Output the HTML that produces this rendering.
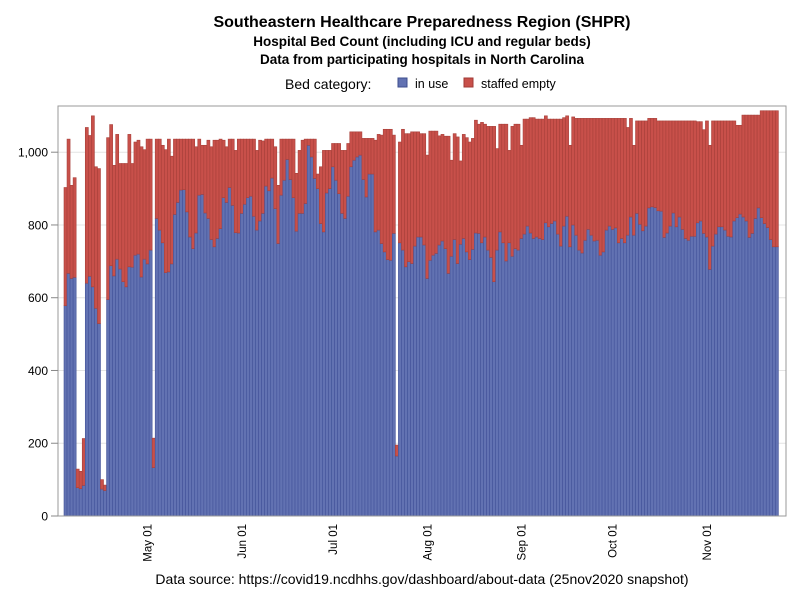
<!DOCTYPE html>
<html><head><meta charset="utf-8"><style>
body{margin:0;background:#fff;font-family:"Liberation Sans",Arial,sans-serif}
svg text{font-family:"Liberation Sans",Arial,sans-serif}
</style></head><body>
<svg id="chart" width="800" height="600" viewBox="0 0 800 600" xmlns="http://www.w3.org/2000/svg">
<rect x="0" y="0" width="800" height="600" fill="#fff"/>
<text x="422" y="27" text-anchor="middle" font-size="16" font-weight="bold">Southeastern Healthcare Preparedness Region (SHPR)</text>
<text x="422" y="46" text-anchor="middle" font-size="13.5" font-weight="bold">Hospital Bed Count (including ICU and regular beds)</text>
<text x="422" y="64" text-anchor="middle" font-size="13.5" font-weight="bold">Data from participating hospitals in North Carolina</text>
<g>
<text x="285" y="89" font-size="14">Bed category:</text>
<rect x="398" y="78" width="9" height="9" fill="#6272B2" stroke="#3D4E8E"/>
<text x="415" y="88" font-size="12.5">in use</text>
<rect x="464" y="78" width="9" height="9" fill="#C8504A" stroke="#A03A35"/>
<text x="481" y="88" font-size="12.5">staffed empty</text>
</g>
<g id="grid"></g>
<g id="bars"></g>
<rect x="58" y="106" width="728" height="410" fill="none" stroke="#999" stroke-width="1"/>
<g id="yaxis"></g>
<g id="xaxis"></g>
<text x="422" y="584" text-anchor="middle" font-size="14">Data source: https://covid19.ncdhhs.gov/dashboard/about-data (25nov2020 snapshot)</text>
</svg>
<script>
const inUse=[578,667,653,656,78,75,84,640,659,630,571,529,74,70,595,688,660,706,679,644,630,685,684,717,720,657,706,693,731,133,818,786,751,669,671,693,829,862,896,
897,836,767,735,778,882,884,833,818,760,740,763,790,875,862,903,854,779,778,832,857,875,879,824,786,811,832,907,894,929,845,749,882,923,980,925,875,783,832,
832,859,1019,987,928,900,804,781,888,900,960,923,886,832,818,879,960,978,987,992,925,877,940,940,781,786,749,726,705,703,777,165,751,731,685,699,694,742,767,767,745,
653,703,717,722,745,756,735,667,714,760,694,747,763,726,705,733,778,777,751,767,731,711,644,731,781,751,701,751,714,735,731,763,775,797,778,763,767,763,760,
806,795,804,811,775,742,797,824,740,800,772,731,723,758,788,772,756,758,717,726,786,797,788,792,751,763,751,772,822,772,832,802,784,797,847,850,848,839,
838,766,778,797,833,795,822,788,763,758,769,769,806,811,777,767,678,742,775,795,795,786,769,767,811,820,830,822,811,766,777,818,847,820,804,793,760,740,740];
const totalBeds=[903,1036,909,930,129,123,213,1068,1046,1100,960,955,100,85,1040,1076,964,1049,969,969,969,1049,969,1028,1033,1015,1007,1036,1036,214,1036,1036,1019,1007,1036,989,1036,1036,1036,
1036,1036,1036,1036,1015,1036,1019,1019,1033,1015,1033,1033,1036,1033,1015,1036,1036,1005,1036,1036,1036,1036,1036,1036,1005,1033,1031,1036,1036,1036,1015,909,1036,1036,1036,1036,1036,942,1005,
1033,1036,1036,1036,1036,940,960,1005,1005,1005,1024,1024,1024,1005,1005,1024,1056,1056,1056,1056,1038,1038,1038,1038,1033,1049,1047,1063,1063,1063,1047,195,1028,1063,1051,1051,1056,1056,1056,1051,1051,
992,1058,1058,1058,1045,1049,1044,1044,978,1051,1042,976,1049,1040,1028,1038,1088,1077,1082,1077,1071,1071,1071,1010,1077,1077,1077,1005,1071,1077,1077,1019,1091,1091,1095,1095,1091,1091,1091,
1100,1091,1091,1091,1091,1091,1095,1100,1019,1097,1093,1093,1093,1093,1093,1093,1093,1093,1093,1093,1093,1093,1093,1093,1093,1093,1093,1068,1093,1019,1086,1086,1086,1086,1093,1093,1093,1086,
1086,1086,1086,1086,1086,1086,1086,1086,1086,1086,1086,1086,1084,1084,1062,1086,1019,1086,1086,1086,1086,1086,1086,1086,1086,1074,1074,1102,1102,1102,1102,1102,1102,1114,1114,1114,1114,1114,1114];
const yTicks=[0,200,400,600,800,1000];
const yTickLabels=["0","200","400","600","800","1,000"];
const xTickDays=[27,58,88,119,150,180,211];
const xTickLabels=["May 01","Jun 01","Jul 01","Aug 01","Sep 01","Oct 01","Nov 01"];

const NS="http://www.w3.org/2000/svg";
const X0=64, BW=3.04, Y0=516, K=0.3638;
const xs=i=>X0+BW*i;
const ys=v=>Y0-v*K;
function mk(tag,attrs,parent){const e=document.createElementNS(NS,tag);for(const k in attrs)e.setAttribute(k,attrs[k]);parent.appendChild(e);return e;}
const grid=document.getElementById('grid'),bars=document.getElementById('bars'),ya=document.getElementById('yaxis'),xa=document.getElementById('xaxis');
yTicks.forEach((t,j)=>{
  if(t>0){const g=mk('line',{x1:58,x2:786,y1:ys(t),y2:ys(t),stroke:'#e4e4e4','stroke-width':1},grid);
  
  }
  const tk=mk('line',{x1:51,x2:58,y1:ys(t),y2:ys(t),stroke:'#888'},ya);
  
  
  const tl=mk('text',{x:48,y:ys(t)+4.5,'text-anchor':'end','font-size':12},ya);
  tl.textContent=yTickLabels[j];
  
  
});
inUse.forEach((u,i)=>{
  const t=totalBeds[i];
  const r1=mk('rect',{x:xs(i),y:ys(u),width:BW,height:u*K,fill:'#6272B2',stroke:'#43539A','stroke-width':0.6},bars);
  
  
  const r2=mk('rect',{x:xs(i),y:ys(t),width:BW,height:Math.max(0,(t-u)*K),fill:'#C8504A',stroke:'#A8403A','stroke-width':0.6},bars);
  
  
});
xTickDays.forEach((d,j)=>{
  const cx=xs(d)+BW/2;
  const tl=mk('text',{x:0,y:0,'text-anchor':'end','font-size':11.5,transform:`translate(${cx+4},524) rotate(-90)`},xa);
  tl.textContent=xTickLabels[j];
  
  
});
</script>
</body></html>
